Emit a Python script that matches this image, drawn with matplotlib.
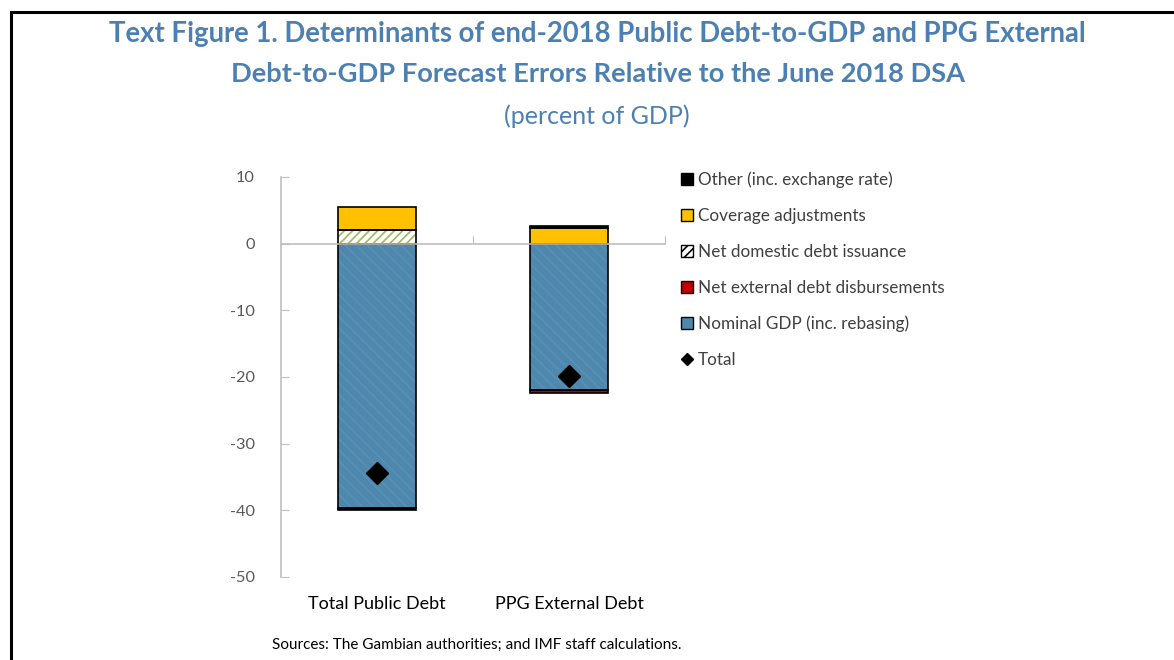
import matplotlib
matplotlib.use("Agg")
import matplotlib.pyplot as plt
import numpy as np
from matplotlib.patches import Patch
from matplotlib.lines import Line2D

plt.rcParams['font.family'] = ['Lato', 'DejaVu Sans']
plt.rcParams['hatch.linewidth'] = 1.2

categories = ["Total Public Debt", "PPG External Debt"]
nominal_gdp = [-39.6, -22.0]
net_external = [0.0, -0.4]
net_domestic = [2.0, 0.0]
coverage = [3.5, 2.3]
other = [-0.3, 0.3]
total = [-34.4, -19.8]

yticks = [10, 0, -10, -20, -30, -40, -50]

TITLE_BLUE = '#4C80B3'
GRID_GRAY = '#BFBFBF'
TEXT_GRAY = '#595959'

fig = plt.figure(figsize=(11.74, 6.6), dpi=100)
ax = fig.add_axes([281 / 1174, 1 - 577 / 660, 384 / 1174, 400 / 660])

x = np.arange(len(categories))
width = 0.41

# series in stacking order: (values, face, hatch, hatch colour, label)
series = [
    (nominal_gdp, '#4E88AC', '\\\\\\', '#5790B4', 'Nominal GDP (inc. rebasing)'),
    (net_external, '#C00000', None, None, 'Net external debt disbursements'),
    (net_domestic, 'white', '////', '#9BBB59', 'Net domestic debt issuance'),
    (coverage, '#FFC000', None, None, 'Coverage adjustments'),
    (other, '#000000', None, None, 'Other (inc. exchange rate)'),
]

pos_base = np.zeros(len(categories))
neg_base = np.zeros(len(categories))
handles = {}
for vals, face, hatch, hcol, label in series:
    vals = np.asarray(vals, dtype=float)
    bottoms = np.where(vals >= 0, pos_base, neg_base)
    if hatch:
        ax.bar(x, vals, width, bottom=bottoms, color=face, edgecolor=hcol,
               hatch=hatch, linewidth=0, zorder=2)
    else:
        ax.bar(x, vals, width, bottom=bottoms, color=face, linewidth=0, zorder=2)
    ax.bar(x, vals, width, bottom=bottoms, fill=False, edgecolor='black',
           linewidth=1.2, zorder=3)
    pos_base = pos_base + np.where(vals >= 0, vals, 0)
    neg_base = neg_base + np.where(vals < 0, vals, 0)
    handles[label] = Patch(facecolor=face, edgecolor='black', linewidth=1.0,
                           hatch=('////' if hatch == '////' else None))

ax.plot(x, total, linestyle='none', marker='D', markersize=11,
        color='black', zorder=5)

ax.set_xlim(-0.5, 1.5)
ax.set_ylim(-50, 10)
ax.set_yticks(yticks)
ax.set_yticklabels([str(v) for v in yticks], color=TEXT_GRAY, fontsize=11.8)
ax.set_xticks([0.5, 1.5])
ax.set_xticklabels([])
ax.tick_params(axis='y', direction='in', length=6, color=GRID_GRAY, pad=19)
ax.tick_params(axis='x', direction='in', length=6, color=GRID_GRAY)

for s in ['top', 'right']:
    ax.spines[s].set_visible(False)
ax.spines['left'].set_color(GRID_GRAY)
ax.spines['left'].set_linewidth(1.2)
ax.spines['bottom'].set_position(('data', 0))
ax.spines['bottom'].set_color(GRID_GRAY)
ax.spines['bottom'].set_linewidth(1.2)
ax.spines['bottom'].set_zorder(4)

for xi, name in zip(x, categories):
    ax.text(xi, -54, name, ha='center', va='center', fontsize=13,
            color='black', transform=ax.transData, clip_on=False)

order = ['Other (inc. exchange rate)', 'Coverage adjustments',
         'Net domestic debt issuance', 'Net external debt disbursements',
         'Nominal GDP (inc. rebasing)']
leg_handles = [handles[k] for k in order]
leg_handles.append(Line2D([], [], linestyle='none', marker='D', markersize=6,
                          color='black'))
leg_labels = order + ['Total']
fig.legend(leg_handles, leg_labels, loc='upper left',
           bbox_to_anchor=(674 / 1174, 1 - 165 / 660), frameon=False,
           fontsize=12.3, labelcolor='#404040', handlelength=0.7,
           handleheight=0.7, handletextpad=0.3, labelspacing=1.16,
           borderaxespad=0)

fig.text(0.5085, 1 - 34 / 660,
         'Text Figure 1. Determinants of end-2018 Public Debt-to-GDP and PPG External',
         ha='center', va='center', fontsize=19.8, fontweight='bold', color=TITLE_BLUE)
fig.text(0.509, 1 - 74 / 660,
         'Debt-to-GDP Forecast Errors Relative to the June 2018 DSA',
         ha='center', va='center', fontsize=19.6, fontweight='bold', color=TITLE_BLUE)
fig.text(0.508, 1 - 116 / 660, '(percent of GDP)', ha='center', va='center',
         fontsize=18, color=TITLE_BLUE)
fig.text(272 / 1174, 1 - 645 / 660,
         'Sources: The Gambian authorities; and IMF staff calculations.',
         ha='left', va='center', fontsize=11, color='black')

# frame lines on the left and top edges
fig.add_artist(Line2D([11 / 1174, 11 / 1174], [0, 1 - 12 / 660],
                      transform=fig.transFigure, color='black', linewidth=2.2))
fig.add_artist(Line2D([11 / 1174, 1], [1 - 12 / 660, 1 - 12 / 660],
                      transform=fig.transFigure, color='black', linewidth=2.2))

fig.savefig('out.png', dpi=100)
